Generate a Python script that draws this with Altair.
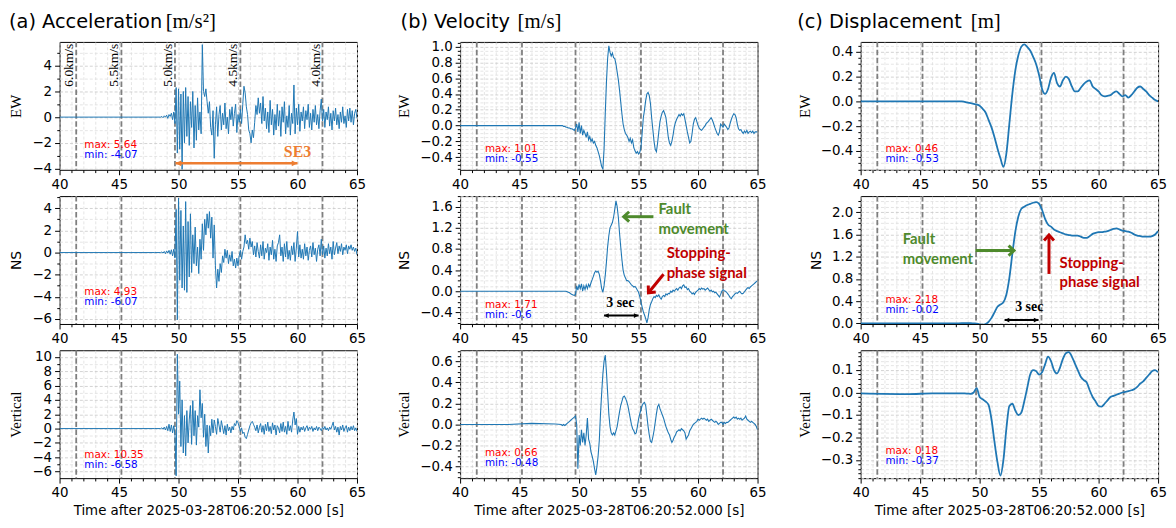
import math
import altair as alt
import pandas as pd

# ---------------- data ----------------
PRE_T = [40.0, 44.0, 46.0, 48.0]
T_FAST0 = 48.5   # first sample of the 0.1 s traces
DT_FAST = 0.1
T_SLOW0 = 48.5   # first sample of the 0.25 s traces
DT_SLOW = 0.25

DASH_T = [41.4, 45.2, 49.7, 55.2, 62.1]
DASH_LABELS = ["6.0km/s", "5.5km/s", "5.0km/s", "4.5km/s", "4.0km/s"]

# (a) acceleration [m/s^2], 0.1 s samples from 48.5 s
acc_ew = [0, 0.05, -0.05, 0.1, 0, 0.15, -0.1, 0.2, 0.05, 0.3,
          -0.2, 0.4, -0.5, 2.3, -2.8, 2.2, -2.5, 1.8, -4.07, 2.0,
          -2.0, 2.3, -1.5, 1.6, -2.2, 1.2, -0.8, 2.0, -2.4, 0.9,
          -1.8, 1.5, -1.0, 0.4, -1.3, 5.64, 2.0, 1.6, 2.2, 1.2,
          0.3, 1.2, -0.8, -1.4, 0.5, -3.2, -0.6, 0.8, -1.5, 0.2,
          0.9, -1.0, 0.3, -0.6, 1.1, -0.9, 0.0, -1.3, 0.6, -0.2,
          0.8, -0.7, 0.3, 1.0, -1.2, 0.2, -0.4, 0.6, -0.5, 1.0,
          2.4, 1.9, 0.8, 0.2, -1.0, -1.3, -2.0, -1.0, -1.6, -0.4,
          0.9, 0.2, 1.5, 0.3, 1.1, -0.5, 1.6, -0.3, 0.7, -0.9,
          0.4, -1.2, 1.3, -0.6, 0.6, -1.4, 0.2, -1.0, 1.0, -0.7,
          0.5, -1.5, 0.8, -0.4, 1.2, -1.3, 0.1, -0.8, 0.9, -1.4,
          0.3, -0.5, 2.5, -1.3, 0.7, -0.6, 1.0, -1.1, 0.4, -0.3,
          0.8, -0.9, 0.5, -0.2, 1.0, -0.8, 0.3, -1.0, 0.6, -0.4,
          0.9, -0.6, 0.2, -0.9, 0.5, 1.4, -0.3, 0.6, -0.8, 0.4,
          -0.2, 0.8, -0.7, 0.3, -1.0, 0.5, -0.3, 0.7, -0.6, 0.2,
          -0.9, 0.4, -0.4, 0.8, -0.5, 0.1, -0.8, 0.6, -0.3, 0.7,
          -0.4, 0.5, -0.6, 0.3, 0.6, -0.1]
acc_ns = [0, 0.05, -0.05, 0.1, -0.1, 0.15, -0.05, 0.2, -0.15, 0.25,
          -0.3, 0.3, -0.5, 3.9, -6.07, 4.93, -2.5, 3.8, -3.2, 2.4,
          -3.4, 4.6, -3.6, 2.8, -2.2, 3.5, -1.8, 1.6, -1.0, 2.3,
          -1.2, 0.5, -1.9, 1.2, -0.6, 2.6, 0.2, 3.0, 1.6, 3.5,
          2.2, 3.7, 1.3, 3.2, -0.5, 2.5, -1.2, -3.2, -1.5, -2.6,
          -1.0, -1.8, -0.3, -0.9, 0.3, -0.5, 0.2, -1.0, -0.2, -0.8,
          0.1, -1.2, -0.6, -1.4, -0.5, -1.2, -0.3, 0.2, -0.6, 0.1,
          0.5, 1.6, 0.8, 1.1, 0.3, 1.3, 0.5, 1.0, -0.2, 0.6,
          -0.4, 0.9, 0.1, -0.5, 0.7, -0.3, 1.0, -0.6, 0.4, 0.0,
          0.8, -0.7, 0.5, -0.2, 1.1, -0.6, 0.3, -0.8, 0.6, 0.9,
          1.6, -0.3, 0.5, -0.8, 0.8, -0.4, 1.0, -0.6, 0.2, -0.7,
          0.6, -0.2, 0.9, -0.8, 0.4, 1.9, -0.4, 0.7, -0.5, 0.3,
          -0.6, 0.8, -0.3, 0.5, -0.7, 0.2, 0.6, -0.4, 0.9, -0.2,
          0.4, -0.8, 0.3, 0.7, -0.3, 1.2, -0.2, 0.6, -0.5, 0.4,
          -0.3, 0.8, -0.1, 0.5, -0.6, 1.0, -0.2, 0.4, 0.9, -0.1,
          0.6, 0.1, 0.8, -0.2, 0.5, 0.2, 0.7, -0.1, 0.6, 0.3,
          0.7, 0.2, 0.5, 0.1, 0.4, -0.2]
acc_ud = [0, 0.1, -0.1, 0.2, -0.2, 0.3, -0.3, 0.6, -0.4, 0.5,
          -0.6, 0.4, -0.8, -6.58, 10.35, 2.0, 6.6, -2.5, 4.0, -3.4,
          1.8, -3.8, 2.5, -2.0, 1.2, 3.2, -2.2, 3.9, -1.0, 2.5,
          -2.3, 1.8, 0.2, 5.4, 1.5, 3.5, -1.2, 2.0, -2.5, 0.5,
          -3.4, 0.4, -1.0, 1.3, -0.6, 1.2, 0.3, -0.8, 1.4, 0.5,
          -0.5, 1.1, 0.2, -0.7, 0.4, -0.9, 0.6, -0.3, 0.2, -0.6,
          0.3, -0.2, 0.7, 0.4, 1.1, 0.8, 0.3, -0.4, 0.1, -0.7,
          -0.5, -1.2, -1.4, -0.8, -0.2, 0.4, 0.8, 1.0, 0.6, 0.2,
          -0.3, 0.5, -0.6, 0.2, 0.7, -0.5, 0.4, -0.8, 0.6, -0.3,
          0.9, -0.4, 0.3, -0.7, 0.8, -0.2, 0.5, -0.9, 0.4, 0.1,
          -0.6, 0.7, -0.4, 0.9, -0.5, 0.3, -0.8, 1.0, -0.3, 0.4,
          -0.5, 1.2, 2.3, 0.5, 1.4, -0.8, 0.3, -0.5, 0.2, -0.2,
          0.3, -0.4, 0.1, 0.4, -0.3, 0.2, -0.1, 0.3, -0.4, 0.1,
          -0.2, 0.3, -0.3, 0.2, 0.0, -0.3, 0.2, -0.1, 0.3, -0.2,
          0.1, -0.3, 0.2, -0.1, 0.4, 0.9, -0.2, 0.3, -0.5, 0.2,
          -0.9, 0.3, -0.2, 0.5, -0.4, 0.1, 0.4, -0.5, 0.2, -0.3,
          0.3, -0.2, 0.4, -0.3, 0.1, -0.4]

# (b) velocity [m/s], 0.1 s samples from 48.5 s
vel_ew = [0.0, 0.0, -0.01, -0.01, -0.02, -0.02, -0.03, -0.03, -0.04, -0.04,
          -0.05, -0.06, -0.03, 0.02, -0.08, 0.04, -0.1, 0.0, -0.12, -0.06,
          -0.1, -0.15, -0.08, -0.18, -0.14, -0.2, -0.17, -0.22, -0.2, -0.25,
          -0.28, -0.33, -0.38, -0.45, -0.52, -0.55, -0.3, 0.15, 0.55, 0.85,
          1.01, 0.93, 0.88, 0.92, 0.86, 0.85, 0.78, 0.68, 0.58, 0.45,
          0.3, 0.15, 0.02, -0.05, -0.1, -0.12, -0.15, -0.2, -0.16, -0.22,
          -0.18, -0.28, -0.32, -0.35, -0.33, -0.36, -0.34, -0.28, -0.1, 0.1,
          0.2, 0.32, 0.4, 0.42, 0.38, 0.28, 0.1, -0.05, -0.2, -0.3,
          -0.33, -0.22, -0.08, 0.05, 0.12, 0.17, 0.19, 0.15, 0.1, -0.02,
          -0.15, -0.22, -0.25, -0.2, -0.12, -0.02, 0.04, 0.08, 0.11, 0.14,
          0.12, 0.15, 0.13, 0.15, 0.08, 0.0, -0.08, -0.15, -0.22, -0.2,
          -0.1, 0.02, 0.08, 0.1, 0.05, 0.0, -0.03, -0.05, -0.06, -0.04,
          -0.02, 0.0, 0.03, 0.04, 0.06, 0.08, 0.1, 0.07, 0.03, -0.02,
          -0.06, -0.1, -0.12, -0.08, 0.02, 0.0, -0.02, 0.02, 0.0, -0.02,
          -0.05, -0.03, 0.03, 0.08, 0.12, 0.15, 0.14, 0.1, 0.02, -0.04,
          -0.06, -0.05, -0.08, -0.1, -0.07, -0.09, -0.06, -0.1, -0.08, -0.07,
          -0.09, -0.07, -0.1, -0.08, -0.08, -0.08]
vel_ns = [0, 0, 0, 0, 0, -0.01, -0.02, -0.03, -0.05, -0.06,
          -0.07, -0.08, -0.06, 0.1, 0.02, 0.13, 0.05, 0.14, 0.0, 0.1,
          0.03, 0.12, 0.05, 0.13, 0.08, 0.16, 0.22, 0.28, 0.35, 0.38,
          0.36, 0.38, 0.32, 0.2, 0.05, -0.02, 0.1, 0.3, 0.55, 0.84,
          1.05, 1.2, 1.25, 1.3, 1.4, 1.55, 1.71, 1.6, 1.4, 1.1,
          0.84, 0.6, 0.4, 0.3, 0.25, 0.2, 0.2, 0.18, 0.15, 0.12,
          0.1, 0.08, 0.09, 0.06, 0.02, -0.02, -0.1, -0.2, -0.3, -0.39,
          -0.45, -0.52, -0.6, -0.5, -0.35, -0.25, -0.2, -0.14, -0.1, -0.12,
          -0.08, -0.1, -0.07, -0.12, -0.15, -0.1, -0.08, -0.1, -0.05, -0.07,
          -0.04, -0.05, 0.0, -0.02, 0.02, 0.0, 0.03, 0.05, 0.02, 0.06,
          0.08, 0.05, 0.1, 0.12, 0.07, 0.08, 0.03, 0.05, 0.0, -0.02,
          -0.05, -0.03, -0.06, -0.02, 0.0, 0.02, 0.05, 0.03, 0.06, 0.04,
          0.05, 0.02, 0.04, 0.06, 0.03, 0.0, 0.02, -0.01, 0.0, -0.03,
          -0.02, -0.05, -0.08, -0.11, -0.06, 0.0, 0.03, 0.01, 0.0, -0.02,
          -0.05, -0.08, -0.12, -0.14, -0.1, -0.08, -0.05, -0.03, -0.04, -0.02,
          0.0, -0.03, -0.05, -0.04, -0.01, 0.02, 0.05, 0.07, 0.05, 0.08,
          0.1, 0.12, 0.14, 0.16, 0.18, 0.2]
vel_ud = [0.0, -0.01, 0.0, -0.01, 0.0, 0.01, 0.02, 0.03, 0.04, 0.05,
          0.06, 0.07, 0.08, 0.0, -0.42, -0.1, -0.2, -0.05, -0.17, -0.08,
          -0.2, -0.1, 0.06, -0.14, -0.18, -0.26, -0.3, -0.35, -0.42, -0.48,
          -0.4, -0.3, -0.15, 0.1, 0.3, 0.48, 0.6, 0.66, 0.5, 0.3,
          0.1, -0.02, -0.08, -0.1, -0.08, -0.1, -0.06, -0.02, 0.05, 0.12,
          0.18, 0.22, 0.26, 0.27, 0.25, 0.22, 0.18, 0.12, 0.06, 0.0,
          -0.04, -0.06, -0.09, -0.08, -0.02, 0.05, 0.1, 0.14, 0.18, 0.2,
          0.21, 0.18, 0.08, -0.02, -0.1, -0.16, -0.17, -0.12, -0.06, 0.02,
          0.1, 0.17, 0.19, 0.15, 0.12, 0.09, 0.06, 0.02, -0.02, -0.05,
          -0.08, -0.1, -0.14, -0.17, -0.15, -0.12, -0.1, -0.07, -0.06, -0.05,
          -0.06, -0.04, -0.05, -0.06, -0.08, -0.14, -0.12, -0.1, -0.06, -0.04,
          -0.02, 0.0, 0.01, 0.02, 0.03, 0.05, 0.04, 0.05, 0.06, 0.05,
          0.06, 0.05, 0.04, 0.05, 0.03, 0.04, 0.05, 0.04, 0.03, 0.02,
          0.03, 0.02, 0.0, 0.01, 0.02, 0.02, 0.0, 0.02, 0.01, 0.02,
          0.02, 0.03, 0.04, 0.05, 0.06, 0.07, 0.06, 0.07, 0.05, 0.06,
          0.05, 0.06, 0.04, 0.05, 0.06, 0.08, 0.05, 0.04, 0.03, 0.02,
          0.03, 0.02, 0.01, 0.0, -0.02, -0.05]
vel_ud_pre = [0.0, 0.0, 0.01, 0.005]

# (c) displacement [m], 0.25 s samples from 48.5 s
dis_ew = [0.0, -0.005, -0.01, -0.015,
          -0.02, -0.025, -0.035, -0.06,
          -0.09, -0.15, -0.21, -0.29,
          -0.38, -0.46, -0.53, -0.42,
          -0.18, 0.06, 0.25, 0.37,
          0.44, 0.46, 0.44, 0.41,
          0.36, 0.3, 0.21, 0.1,
          0.06, 0.1, 0.19, 0.23,
          0.15, 0.12, 0.17, 0.2,
          0.18, 0.12, 0.08, 0.08,
          0.11, 0.14, 0.16, 0.17,
          0.12, 0.1, 0.08, 0.05,
          0.04, 0.045, 0.05, 0.07,
          0.08, 0.06, 0.04, 0.05,
          0.03, 0.05, 0.08, 0.11,
          0.12, 0.1, 0.08, 0.05,
          0.03, 0.01, 0.0]
dis_ns = [0.005, 0.005, 0.005, 0.005,
          0.0, -0.005, -0.015, -0.02,
          -0.01, 0.03, 0.1, 0.2,
          0.3, 0.34, 0.38, 0.52,
          0.82, 1.25, 1.65, 1.92,
          2.06, 2.1, 2.13, 2.15,
          2.17, 2.18, 2.15, 2.04,
          1.88, 1.78, 1.74, 1.69,
          1.66, 1.64, 1.62, 1.6,
          1.59, 1.58, 1.58, 1.58,
          1.56, 1.54, 1.54, 1.57,
          1.61, 1.63, 1.64, 1.64,
          1.65, 1.66, 1.68, 1.7,
          1.71, 1.69, 1.67, 1.66,
          1.65, 1.63, 1.6, 1.58,
          1.57, 1.56, 1.56, 1.56,
          1.57, 1.6, 1.66]
dis_ud = [-0.004, -0.004, -0.005, -0.006,
          0.0, 0.02, -0.02, -0.03,
          -0.04, -0.055, -0.12, -0.22,
          -0.31, -0.37, -0.3, -0.16,
          -0.06, -0.05, -0.08, -0.1,
          -0.09, -0.04, 0.02, 0.08,
          0.1, 0.095, 0.08, 0.09,
          0.125, 0.16, 0.14, 0.1,
          0.085, 0.11, 0.15, 0.175,
          0.18, 0.16, 0.13, 0.1,
          0.07, 0.055, 0.045, 0.01,
          -0.02, -0.04, -0.06, -0.063,
          -0.05, -0.035, -0.02, -0.015,
          -0.01, -0.005, 0.0, 0.003,
          0.006, 0.01, 0.015, 0.025,
          0.04, 0.05, 0.065, 0.08,
          0.095, 0.1, 0.09]
dis_ud_pre = [-0.004, -0.007, -0.004, -0.004]
ZERO_PRE = [0.0, 0.0, 0.0, 0.0]

# ---------------- style ----------------
BLUE = "#1f77b4"
GRID_MAJ = "#c8c8c8"
GRID_MIN = "#dedede"
SANS = "DejaVu Sans"
SERIF = "Liberation Serif"
BOLDSANS = "Lato"
GREEN = "#4e8a2c"
DARKRED = "#c00000"
ORANGE = "#ed7d31"
PANEL_H = 129


def series(vals, t0, dt, pre):
    t = PRE_T + [round(t0 + dt * i, 3) for i in range(len(vals))]
    return pd.DataFrame({"t": t, "v": pre + vals})


def fmt_num(v):
    return repr(float(v))


def x_axis(title):
    test = "datum.value % 5 == 0"
    kw = dict(values=list(range(40, 66)), format="d",
              labelExpr=f"{test} ? datum.label : ''",
              tickSize={"condition": {"test": test, "value": 5}, "value": 2.8},
              gridColor={"condition": {"test": test, "value": GRID_MAJ}, "value": GRID_MIN},
              grid=True, gridDash=[3, 2], gridWidth=0.8, domain=False,
              labelFlush=False, labelOverlap=False, labelPadding=3,
              labelFont=SANS, labelFontSize=13.5, labelColor="black", tickColor="black")
    if title:
        kw.update(title=title, titleFont=SANS, titleFontSize=13.5, titleFontWeight="normal",
                  titleColor="black", titlePadding=4)
    else:
        kw.update(title=None)
    return alt.Axis(**kw)


def y_axis(dom, major, minor, fmt, title, tfont, tsize):
    vals, majors = [], []
    k = math.ceil(dom[0] / minor - 1e-9)
    while k * minor <= dom[1] + 1e-9:
        v = round(k * minor, 6) + 0.0
        vals.append(v)
        if abs(v / major - round(v / major)) < 1e-6:
            majors.append(v)
        k += 1
    test = "indexof([" + ",".join(fmt_num(m) for m in majors) + "], datum.value) >= 0"
    return alt.Axis(values=vals, format=fmt,
                    labelExpr=f"{test} ? datum.label : ''",
                    tickSize={"condition": {"test": test, "value": 5}, "value": 2.8},
                    gridColor={"condition": {"test": test, "value": GRID_MAJ}, "value": GRID_MIN},
                    grid=True, gridDash=[3, 2], gridWidth=0.8, domain=False,
                    labelOverlap=False, labelPadding=3, labelFlush=False,
                    labelFont=SANS, labelFontSize=13.5, labelColor="black", tickColor="black",
                    title=title, titleFont=tfont, titleFontSize=tsize, titleFontWeight="normal",
                    titleColor="black", titlePadding=8)


def text_layer(X, Y, rows, color, font, size, weight="normal", align="left"):
    df = pd.DataFrame(rows, columns=["t", "v", "txt"])
    return alt.Chart(df).mark_text(align=align, baseline="middle", font=font, fontSize=size,
                                   fontWeight=weight, color=color).encode(x=X, y=Y, text="txt:N")


CHEVRON = "M-1,1.1L0,0L1,1.1"
TRIANGLE = "M-0.75,1.5L0,0L0.75,1.5Z"


def arrow(X, Y, t1, v1, t2, v2, color, width, angle, size, shape=CHEVRON, filled=False, both=False, angle1=None):
    seg = alt.Chart(pd.DataFrame({"t": [t1], "v": [v1], "t2": [t2], "v2": [v2]})).mark_rule(
        color=color, strokeWidth=width).encode(x=X, y=Y, x2=alt.X2("t2"), y2=alt.Y2("v2"))
    def head(t, v, a):
        if filled:
            m = alt.Chart(pd.DataFrame({"t": [t], "v": [v]})).mark_point(
                shape=shape, angle=a, size=size, filled=True, fill=color, strokeWidth=0, opacity=1)
        else:
            m = alt.Chart(pd.DataFrame({"t": [t], "v": [v]})).mark_point(
                shape=shape, angle=a, size=size, filled=False, stroke=color, strokeWidth=width,
                opacity=1, strokeCap="butt")
        return m.encode(x=X, y=Y)
    out = [seg, head(t2, v2, angle)]
    if both:
        out.append(head(t1, v1, angle1))
    return out


def panel(df, ydom, major, minor, fmt, ytitle, tfont, tsize, lw, interp,
          maxs, mins, max_y, xtitle=None, extras=None, height=PANEL_H):
    X = alt.X("t:Q", scale=alt.Scale(domain=[40, 65], nice=False, zero=False), axis=x_axis(xtitle))
    Y = alt.Y("v:Q", scale=alt.Scale(domain=ydom, nice=False, zero=False),
              axis=y_axis(ydom, major, minor, fmt, ytitle, tfont, tsize))
    dashes = alt.Chart(pd.DataFrame({"t": DASH_T})).mark_rule(
        color="#7f7f7f", strokeDash=[5.5, 2.5], strokeWidth=1.8).encode(x=X)
    line = alt.Chart(df).mark_line(color=BLUE, strokeWidth=lw, clip=True,
                                   interpolate=interp).encode(x=X, y=Y)
    one = pd.DataFrame({"k": [0]})
    tmax = alt.Chart(one).mark_text(align="left", baseline="middle", font=SANS, fontSize=10.5,
                                    color="red").encode(x=alt.value(25), y=alt.value(max_y),
                                                        text=alt.value(f"max: {maxs}"))
    tmin = alt.Chart(one).mark_text(align="left", baseline="middle", font=SANS, fontSize=10.5,
                                    color="blue").encode(x=alt.value(25), y=alt.value(max_y + 10),
                                                         text=alt.value(f"min: {mins}"))
    layers = [dashes, line, tmax, tmin]
    if extras:
        layers += extras(X, Y)
    return alt.layer(*layers).properties(width=300, height=height)


def col_title(main, unit, x_main, x_unit):
    one = pd.DataFrame({"k": [0]})
    a = alt.Chart(one).mark_text(align="left", baseline="alphabetic", font=SANS, fontSize=19.5,
                                 color="black").encode(x=alt.value(x_main), y=alt.value(-14),
                                                       text=alt.value(main))
    b = alt.Chart(one).mark_text(align="left", baseline="alphabetic", font=SERIF, fontSize=21,
                                 color="black").encode(x=alt.value(x_unit), y=alt.value(-14),
                                                       text=alt.value(unit))
    return [a, b]


# ----- extras per panel -----
def ex_acc_ew(X, Y):
    labs = alt.Chart(pd.DataFrame({"t": DASH_T, "lab": DASH_LABELS})).mark_text(
        angle=270, align="right", baseline="bottom", font=SERIF, fontSize=13.5, color="black"
    ).encode(x=X, y=alt.value(2), text="lab:N")
    out = [labs]
    out += arrow(X, Y, 49.75, -3.59, 60.0, -3.59, ORANGE, 2.5, 90, 60, shape=TRIANGLE,
                 filled=True, both=True, angle1=270)
    out.append(text_layer(X, Y, [[60.0, -2.75, "SE3"]], ORANGE, SERIF, 16, "bold", "center"))
    out += col_title("(a) Acceleration", "[m/s²]", -51, 107)
    return out


def ex_vel_ew(X, Y):
    return col_title("(b) Velocity", "[m/s]", -60, 58)


def ex_dis_ew(X, Y):
    return col_title("(c) Displacement", "[m]", -64, 111)


def ex_vel_ns(X, Y):
    out = []
    out += arrow(X, Y, 56.25, 1.41, 53.75, 1.41, GREEN, 3, 270, 100)
    out.append(text_layer(X, Y, [[56.67, 1.55, "Fault"], [56.67, 1.18, "movement"]],
                          GREEN, BOLDSANS, 15, "bold"))
    out += arrow(X, Y, 57.1, 0.32, 55.83, -0.03, DARKRED, 3, 221, 100)
    out.append(text_layer(X, Y, [[57.36, 0.72, "Stopping-"], [57.36, 0.35, "phase signal"]],
                          DARKRED, BOLDSANS, 15, "bold"))
    out += arrow(X, Y, 52.1, -0.46, 55.0, -0.46, "black", 2, 90, 40, shape=TRIANGLE,
                 filled=True, both=True, angle1=270)
    out.append(text_layer(X, Y, [[53.47, -0.23, "3 sec"]], "black", SERIF, 14, "bold", "center"))
    return out


def ex_dis_ns(X, Y):
    out = []
    out += arrow(X, Y, 49.64, 1.31, 52.89, 1.31, GREEN, 3, 90, 100)
    out.append(text_layer(X, Y, [[43.53, 1.52, "Fault"], [43.53, 1.15, "movement"]],
                          GREEN, BOLDSANS, 15, "bold"))
    out += arrow(X, Y, 55.83, 0.89, 55.83, 1.59, DARKRED, 3, 0, 100)
    out.append(text_layer(X, Y, [[56.72, 1.09, "Stopping-"], [56.72, 0.74, "phase signal"]],
                          DARKRED, BOLDSANS, 15, "bold"))
    out += arrow(X, Y, 52.1, 0.06, 54.95, 0.06, "black", 2, 90, 40, shape=TRIANGLE,
                 filled=True, both=True, angle1=270)
    out.append(text_layer(X, Y, [[54.17, 0.29, "3 sec"]], "black", SERIF, 14, "bold", "center"))
    return out


XT = "Time after 2025-03-28T06:20:52.000 [s]"

a1 = panel(series(acc_ew, T_FAST0, DT_FAST, ZERO_PRE), [-4.1, 5.85], 2, 0.5, "d", "EW", SERIF, 15,
           1.0, "linear", "5.64", "-4.07", 104, extras=ex_acc_ew)
a2 = panel(series(acc_ns, T_FAST0, DT_FAST, ZERO_PRE), [-6.45, 5.1], 2, 0.5, "d", "NS", SANS, 14,
           1.0, "linear", "4.93", "-6.07", 97)
a3 = panel(series(acc_ud, T_FAST0, DT_FAST, ZERO_PRE), [-6.9, 10.9], 2, 1.0, "d", "Vertical", SERIF, 15,
           1.0, "linear", "10.35", "-6.58", 106, xtitle=XT)

b1 = panel(series(vel_ew, T_FAST0, DT_FAST, ZERO_PRE), [-0.56, 1.06], 0.2, 0.05, ".1f", "EW", SERIF, 15,
           1.1, "linear", "1.01", "-0.55", 108, extras=ex_vel_ew)
b2 = panel(series(vel_ns, T_FAST0, DT_FAST, ZERO_PRE), [-0.62, 1.8], 0.4, 0.1, ".1f", "NS", SANS, 14,
           1.1, "linear", "1.71", "-0.6", 110, extras=ex_vel_ns)
b3 = panel(series(vel_ud, T_FAST0, DT_FAST, vel_ud_pre), [-0.51, 0.705], 0.2, 0.05, ".1f", "Vertical", SERIF, 15,
           1.1, "linear", "0.66", "-0.48", 104, xtitle=XT)

c1 = panel(series(dis_ew, T_SLOW0, DT_SLOW, ZERO_PRE), [-0.553, 0.48], 0.2, 0.05, ".1f", "EW", SERIF, 15,
           1.8, "monotone", "0.46", "-0.53", 108, extras=ex_dis_ew)
c2 = panel(series(dis_ns, T_SLOW0, DT_SLOW, ZERO_PRE), [-0.01, 2.29], 0.4, 0.1, ".1f", "NS", SANS, 14,
           1.8, "monotone", "2.18", "-0.02", 105, extras=ex_dis_ns)
c3 = panel(series(dis_ud, T_SLOW0, DT_SLOW, dis_ud_pre), [-0.381, 0.188], 0.1, 0.02, ".1f", "Vertical", SERIF, 15,
           1.8, "monotone", "0.18", "-0.37", 102, xtitle=XT)

chart = alt.concat(
    a1, b1, c1, a2, b2, c2, a3, b3, c3,
    columns=3, spacing={"row": 26.5, "column": 104}, bounds="flush"
).properties(
    padding={"left": 0, "top": 0, "right": 0, "bottom": 0}
).configure_view(stroke="black", strokeWidth=1)

chart.save("out.html", embed_options={"renderer": "svg", "actions": False})
